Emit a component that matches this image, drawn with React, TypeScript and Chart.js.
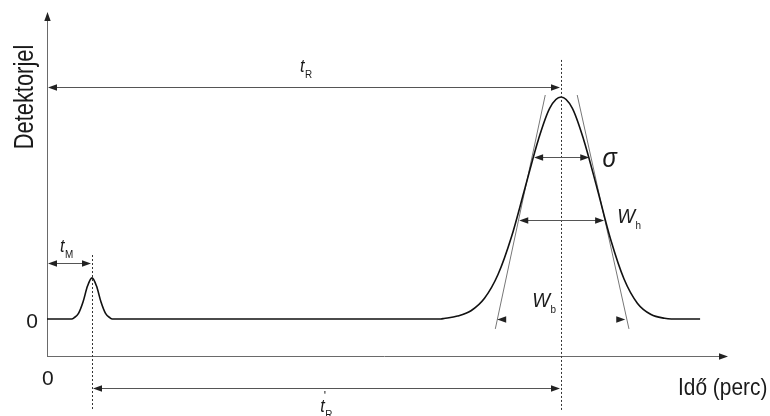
import React, { useEffect, useRef } from "react";
import { Chart, registerables } from "chart.js";

Chart.register(...registerables);

// Time axis (minutes, schematic) and detector signal
const signalX = [0, 0.55, 0.6, 0.7, 0.8, 0.9, 1.0, 1.1, 1.2, 1.3, 1.4, 1.45, 8.75, 8.82, 9.12, 9.42, 9.72, 10.02, 10.32, 10.62, 10.92, 11.17, 11.42, 11.67, 11.92, 12.22, 12.52, 12.82, 13.12, 13.42, 13.72, 13.87, 14.51];
const signalY = [0, 0, 0.05, 0.25, 0.76, 1.48, 1.85, 1.48, 0.76, 0.25, 0.05, 0, 0, 0.02, 0.13, 0.37, 0.93, 2.0, 3.7, 5.9, 8.1, 9.5, 10.0, 9.5, 8.1, 5.9, 3.6, 1.8, 0.7, 0.2, 0.03, 0, 0];

// Inflection tangents of the main peak
const tangentLeftX = [9.96, 11.07];
const tangentLeftY = [-0.45, 10.09];
const tangentRightX = [12.93, 11.78];
const tangentRightY = [-0.45, 10.09];

// Characteristic times
const tM = 1.0;
const tR = 11.42;

// Axis ranges
const xMin = 0, xMax = 15.13;
const yMin = -1.67, yMax = 13.83;

// Dimension arrows: [x0, x1, y]
const dimTR = [0, tR, 10.45];
const dimTRprime = [tM, tR, -3.11];
const dimTM = [0, tM, 2.52];
const dimSigma = [10.8, 12.07, 7.3];
const dimWh = [10.47, 12.4, 4.46];
const dimWb = [9.98, 12.87, 0];

const FONT = '"Liberation Sans", Arial, sans-serif';

function arrowHead(ctx: CanvasRenderingContext2D, x: number, y: number, dir: number, vertical = false) {
  const L = 9, W = 3.2;
  ctx.beginPath();
  if (!vertical) {
    ctx.moveTo(x, y);
    ctx.lineTo(x - dir * L, y - W);
    ctx.lineTo(x - dir * L, y + W);
  } else {
    ctx.moveTo(x, y);
    ctx.lineTo(x - W, y - dir * L);
    ctx.lineTo(x + W, y - dir * L);
  }
  ctx.closePath();
  ctx.fill();
}

type TxtOpts = { italic?: boolean; sx?: number; align?: CanvasTextAlign; base?: CanvasTextBaseline; rot?: number };
function txt(ctx: CanvasRenderingContext2D, s: string, x: number, y: number, size: number, o: TxtOpts = {}) {
  ctx.save();
  ctx.translate(x, y);
  if (o.rot) ctx.rotate(o.rot);
  ctx.scale(o.sx ?? 1, 1);
  ctx.font = `${o.italic ? "italic " : ""}${size}px ${FONT}`;
  ctx.textAlign = o.align ?? "left";
  ctx.textBaseline = o.base ?? "alphabetic";
  ctx.fillText(s, 0, 0);
  const w = ctx.measureText(s).width * (o.sx ?? 1);
  ctx.restore();
  return w;
}

const annotPlugin = {
  id: "annot",
  beforeDatasetsDraw(chart: any) {
    const { ctx, scales } = chart;
    const px = (v: number) => scales.x.getPixelForValue(v);
    const py = (v: number) => scales.y.getPixelForValue(v);
    ctx.save();
    ctx.strokeStyle = "#6a6a6a";
    ctx.fillStyle = "#222";
    ctx.lineWidth = 1;
    // y axis
    ctx.beginPath();
    ctx.moveTo(px(xMin) + 0.5, py(yMin));
    ctx.lineTo(px(xMin) + 0.5, py(yMax) + 6);
    ctx.stroke();
    arrowHead(ctx, px(xMin) + 0.5, py(yMax), -1, true);
    // x axis
    ctx.beginPath();
    ctx.moveTo(px(xMin), py(yMin) + 0.5);
    ctx.lineTo(px(xMax) - 6, py(yMin) + 0.5);
    ctx.stroke();
    arrowHead(ctx, px(xMax), py(yMin) + 0.5, 1);
    ctx.restore();
  },
  afterDatasetsDraw(chart: any) {
    const { ctx, scales } = chart;
    const px = (v: number) => scales.x.getPixelForValue(v);
    const py = (v: number) => scales.y.getPixelForValue(v);
    ctx.save();

    // dashed verticals
    ctx.strokeStyle = "#333";
    ctx.lineWidth = 1;
    ctx.setLineDash([2, 2]);
    ctx.beginPath();
    ctx.moveTo(Math.round(px(tM)) + 0.5, py(2.88));
    ctx.lineTo(Math.round(px(tM)) + 0.5, py(-4.1));
    ctx.moveTo(Math.round(px(tR)) + 0.5, py(11.67));
    ctx.lineTo(Math.round(px(tR)) + 0.5, py(-4.1));
    ctx.stroke();
    ctx.setLineDash([]);

    // dimension arrows
    const dims = [dimTR, dimTRprime, dimTM, dimSigma, dimWh, dimWb];
    dims.forEach((d, i) => {
      const x0 = px(d[0]), x1 = px(d[1]);
      const yy = Math.round(py(d[2])) + 0.5;
      ctx.strokeStyle = "#555";
      ctx.fillStyle = "#222";
      ctx.lineWidth = 1;
      if (i !== 5) {
        ctx.beginPath();
        ctx.moveTo(x0 + 4, yy);
        ctx.lineTo(x1 - 4, yy);
        ctx.stroke();
      }
      arrowHead(ctx, x0 + 1, yy, -1);
      arrowHead(ctx, x1 - 1, yy, 1);
    });

    // labels
    ctx.fillStyle = "#1a1a1a";
    const sub = (main: string, s: string, xv: number, yv: number, size: number, prime = false) => {
      const x = px(xv), y = py(yv);
      const w = txt(ctx, main, x, y, size, { italic: true, sx: 0.9 });
      if (prime) txt(ctx, "'", x + w - 1, y - 12, 12);
      txt(ctx, s, x + w + 0.5, y + 6, 11, { sx: 0.9 });
    };
    sub("t", "R", 5.62, 11.13, 18);
    sub("t", "R", 6.07, -4.19, 18, true);
    sub("t", "M", 0.29, 3.02, 18);
    sub("W", "h", 12.67, 4.32, 21);
    sub("W", "b", 10.78, 0.54, 21);

    txt(ctx, "σ", px(12.5), py(7.2), 28, { italic: true, align: "center", base: "middle", sx: 0.85 });

    txt(ctx, "0", px(-0.33), py(-0.41), 21, { align: "center" });
    txt(ctx, "0", px(0.02), py(-2.97), 21, { align: "center" });
    txt(ctx, "Idő (perc)", px(14.02), py(-3.42), 24, { sx: 0.87 });
    txt(ctx, "Detektorjel", px(-0.31), py(10.0), 27, { sx: 0.81, align: "center", rot: -Math.PI / 2 });

    ctx.restore();
  },
};

export default function App() {
  const ref = useRef<HTMLCanvasElement | null>(null);

  useEffect(() => {
    document.body.style.margin = "0";
    const canvas = ref.current;
    if (!canvas) return;
    const toPts = (xs: number[], ys: number[]) => xs.map((x, i) => ({ x, y: ys[i] }));
    const chart = new Chart(canvas, {
      type: "line",
      data: {
        datasets: [
          {
            label: "Detektorjel",
            data: toPts(signalX, signalY),
            borderColor: "#111",
            borderWidth: 1.6,
            pointRadius: 0,
            cubicInterpolationMode: "monotone",
            fill: false,
          },
          {
            label: "tangent-left",
            data: toPts(tangentLeftX, tangentLeftY),
            borderColor: "#777",
            borderWidth: 1,
            pointRadius: 0,
            fill: false,
          },
          {
            label: "tangent-right",
            data: toPts(tangentRightX, tangentRightY),
            borderColor: "#777",
            borderWidth: 1,
            pointRadius: 0,
            fill: false,
          },
        ],
      },
      options: {
        animation: false,
        responsive: false,
        devicePixelRatio: 1,
        layout: { padding: { left: 47, right: 42, top: 12, bottom: 60 } },
        plugins: { legend: { display: false }, tooltip: { enabled: false } },
        scales: {
          x: { type: "linear", min: xMin, max: xMax, display: false },
          y: { type: "linear", min: yMin, max: yMax, display: false },
        },
      },
      plugins: [annotPlugin],
    } as any);
    return () => chart.destroy();
  }, []);

  return (
    <div style={{ width: 770, height: 416, background: "#fff" }}>
      <canvas ref={ref} width={770} height={416} style={{ display: "block" }} />
    </div>
  );
}
